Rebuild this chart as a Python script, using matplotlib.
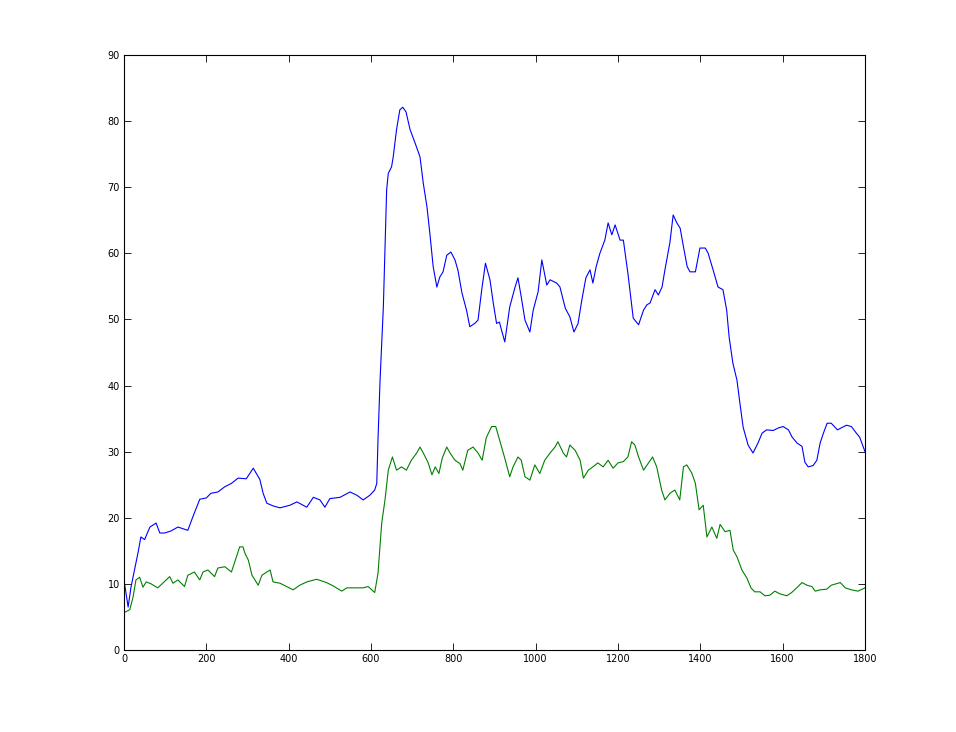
import matplotlib
matplotlib.use("Agg")
import matplotlib.pyplot as plt

blue_x = [0, 10, 17, 34, 41, 50, 63, 78, 87, 99, 114, 131, 155, 167, 184, 200, 211, 228, 245, 261,
          277, 297, 314, 330, 338, 347, 362, 379, 403, 420, 444, 460, 476, 488, 500, 525, 549, 566,
          581, 597, 609, 614, 617, 622, 630, 638, 642, 650, 654, 662, 670, 677, 685, 695, 707, 719,
          727, 736, 743, 751, 760, 767, 775, 784, 794, 804, 811, 821, 832, 840, 852, 860, 869, 878,
          889, 897, 905, 912, 917, 925, 937, 950, 957, 965, 974, 986, 994, 1006, 1015, 1027, 1035,
          1051, 1059, 1072, 1083, 1093, 1103, 1112, 1122, 1132, 1139, 1147, 1156, 1168, 1176, 1185,
          1193, 1205, 1213, 1224, 1237, 1250, 1262, 1270, 1278, 1290, 1298, 1307, 1314, 1326, 1334,
          1343, 1351, 1359, 1368, 1375, 1388, 1399, 1412, 1419, 1431, 1443, 1455, 1464, 1470, 1479,
          1489, 1496, 1504, 1516, 1528, 1540, 1550, 1561, 1577, 1590, 1601, 1614, 1623, 1635, 1647,
          1654, 1662, 1674, 1683, 1691, 1699, 1708, 1718, 1733, 1755, 1767, 1779, 1787, 1800]
blue_y = [10.6, 6.5, 9.5, 14.7, 17.1, 16.7, 18.6, 19.2, 17.7, 17.7, 18.0, 18.6, 18.1, 20.1, 22.8,
          23.0, 23.7, 23.9, 24.7, 25.2, 26.0, 25.9, 27.5, 25.8, 23.7, 22.2, 21.8, 21.5, 21.9, 22.4,
          21.6, 23.1, 22.7, 21.6, 22.9, 23.1, 23.9, 23.4, 22.7, 23.4, 24.2, 25.2, 31.8, 40.8, 51.9,
          69.6, 72.1, 73.1, 74.6, 78.7, 81.7, 82.1, 81.4, 78.7, 76.7, 74.6, 70.6, 67.0, 63.0, 58.0,
          54.9, 56.4, 57.2, 59.7, 60.2, 59.0, 57.5, 54.0, 51.4, 48.9, 49.4, 49.9, 54.5, 58.5, 56.0,
          52.5, 49.4, 49.6, 48.4, 46.6, 51.9, 54.9, 56.3, 53.4, 49.9, 48.1, 51.4, 54.2, 59.0, 55.2,
          56.0, 55.5, 54.9, 51.7, 50.4, 48.1, 49.4, 52.9, 56.3, 57.5, 55.5, 58.0, 60.0, 62.0, 64.6,
          62.8, 64.3, 62.0, 62.0, 57.0, 50.2, 49.2, 51.4, 52.2, 52.5, 54.5, 53.7, 54.9, 57.5, 61.6,
          65.8, 64.6, 63.8, 61.0, 58.0, 57.2, 57.2, 60.8, 60.8, 60.0, 57.5, 54.9, 54.5, 51.4, 47.3,
          43.4, 40.8, 37.4, 33.7, 31.0, 29.8, 31.3, 32.8, 33.3, 33.2, 33.6, 33.8, 33.3, 32.2, 31.3,
          30.8, 28.4, 27.7, 27.9, 28.7, 31.3, 32.8, 34.3, 34.3, 33.3, 34.0, 33.8, 32.8, 32.2, 30.0]

green_x = [0, 2, 14, 22, 29, 38, 46, 54, 66, 82, 94, 111, 119, 131, 147, 155, 171, 184, 192, 204,
           220, 228, 245, 261, 269, 281, 289, 294, 302, 311, 318, 326, 335, 347, 355, 362, 379, 395,
           411, 427, 444, 468, 492, 508, 529, 541, 561, 581, 593, 602, 609, 617, 626, 634, 642, 652,
           662, 674, 686, 698, 711, 719, 727, 739, 748, 756, 765, 773, 784, 792, 804, 816, 823, 835,
           848, 860, 870, 880, 893, 903, 913, 925, 937, 945, 957, 965, 974, 986, 998, 1010, 1022,
           1035, 1047, 1054, 1067, 1075, 1083, 1096, 1108, 1116, 1128, 1139, 1151, 1164, 1176, 1188,
           1200, 1213, 1224, 1233, 1241, 1250, 1262, 1274, 1284, 1294, 1306, 1314, 1326, 1338, 1350,
           1359, 1367, 1379, 1388, 1397, 1407, 1416, 1428, 1440, 1448, 1460, 1472, 1480, 1489, 1501,
           1513, 1523, 1532, 1545, 1557, 1569, 1581, 1593, 1610, 1622, 1634, 1647, 1659, 1671, 1679,
           1691, 1707, 1718, 1740, 1752, 1767, 1783, 1800]
green_y = [6.0, 5.7, 6.1, 8.0, 10.6, 11.0, 9.5, 10.3, 10.0, 9.4, 10.1, 11.1, 10.1, 10.6, 9.6, 11.3,
           11.8, 10.6, 11.8, 12.1, 11.1, 12.4, 12.6, 11.8, 13.3, 15.6, 15.6, 14.6, 13.6, 11.3, 10.6,
           9.8, 11.3, 11.8, 12.1, 10.3, 10.1, 9.6, 9.1, 9.8, 10.3, 10.7, 10.2, 9.7, 8.9, 9.4, 9.4,
           9.4, 9.6, 9.1, 8.7, 11.6, 19.2, 22.7, 27.2, 29.2, 27.2, 27.7, 27.2, 28.7, 29.8, 30.7, 29.8,
           28.3, 26.5, 27.7, 26.7, 29.0, 30.7, 29.8, 28.7, 28.2, 27.2, 30.2, 30.7, 29.8, 28.7, 32.1,
           33.8, 33.8, 31.6, 29.0, 26.2, 27.7, 29.2, 28.7, 26.2, 25.7, 28.0, 26.7, 28.7, 29.8, 30.7,
           31.5, 29.8, 29.2, 31.0, 30.2, 28.7, 26.0, 27.2, 27.7, 28.3, 27.7, 28.7, 27.5, 28.3, 28.5,
           29.2, 31.5, 31.0, 29.2, 27.2, 28.3, 29.2, 27.7, 24.2, 22.7, 23.7, 24.2, 22.7, 27.7, 28.0,
           26.8, 25.2, 21.2, 21.9, 17.1, 18.6, 16.9, 19.0, 17.9, 18.1, 15.1, 14.1, 12.1, 10.9, 9.4,
           8.8, 8.8, 8.2, 8.3, 8.9, 8.5, 8.2, 8.7, 9.4, 10.2, 9.8, 9.6, 8.9, 9.1, 9.2, 9.8, 10.2,
           9.4, 9.1, 8.9, 9.4]

x_ticks = [0, 200, 400, 600, 800, 1000, 1200, 1400, 1600, 1800]
y_ticks = [0, 10, 20, 30, 40, 50, 60, 70, 80, 90]

fig = plt.figure(figsize=(9.56, 7.32), dpi=100)
ax = fig.add_axes([124 / 956, 82 / 732, 741 / 956, 595 / 732])
ax.plot(blue_x, blue_y, color=(0, 0, 1), lw=0.8)
ax.plot(green_x, green_y, color=(0, 0.5, 0), lw=0.8)
ax.set_xlim(0, 1800)
ax.set_ylim(0, 90)
ax.set_xticks(x_ticks)
ax.set_yticks(y_ticks)
ax.tick_params(direction="in", top=True, right=True, length=5, width=0.6, labelsize=7, pad=3)
for s in ax.spines.values():
    s.set_linewidth(0.8)
fig.savefig("out.png", dpi=100)
